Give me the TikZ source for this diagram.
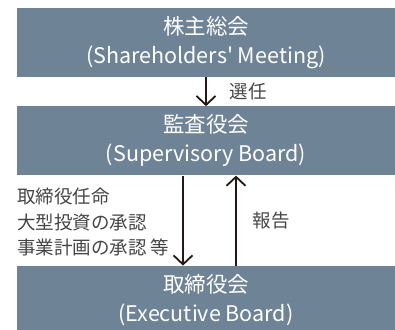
\documentclass[tikz,border=0pt]{standalone}
\usepackage{fontspec}
\setmainfont{Noto Sans CJK JP}
\usetikzlibrary{positioning,arrows.meta,calc}
\definecolor{boardfill}{RGB}{111,131,150}
\definecolor{arrowink}{RGB}{35,24,21}
\definecolor{labelink}{RGB}{70,68,68}
\tikzset{
  board/.style={fill=boardfill,text=white,minimum width=378pt,minimum height=69pt,
            inner sep=0pt,align=center,font=\fontsize{21.5}{29}\selectfont},
  flow/.style={draw=arrowink,line width=1.8pt,-{Straight Barb[length=9pt,width=19pt]}},
  note/.style={text=labelink,inner sep=0pt,align=left,font=\fontsize{18.5}{25.5}\selectfont},
}
\begin{document}
\begin{tikzpicture}[x=1pt,y=1pt]
  \useasboundingbox (0,0) rectangle (395,-329);
  % boards
  \node[board] (sh) at (206,-42.5) {株主総会\\(Shareholders\textquotesingle\ Meeting)};
  \node[board,below=29pt of sh] (sb) {監査役会\\(Supervisory Board)};
  \node[board,below=90pt of sb] (eb) {取締役会\\(Executive Board)};
  % election
  \draw[flow] (sh) -- node[note,right=23pt] (elect) {選任} (sb);
  % appointment / approvals (down)
  \draw[flow] ([xshift=-23pt]sb.south) -- ([xshift=-23pt]eb.north);
  \node[note,anchor=west] (appoint) at (17,-222) {取締役任命\\大型投資の承認\\事業計画の承認 等};
  % report (up)
  \draw[flow] ([xshift=30pt]eb.north) -- ([xshift=30pt]sb.south)
        node[note,midway,right=16pt] (report) {報告};
\end{tikzpicture}
\end{document}
